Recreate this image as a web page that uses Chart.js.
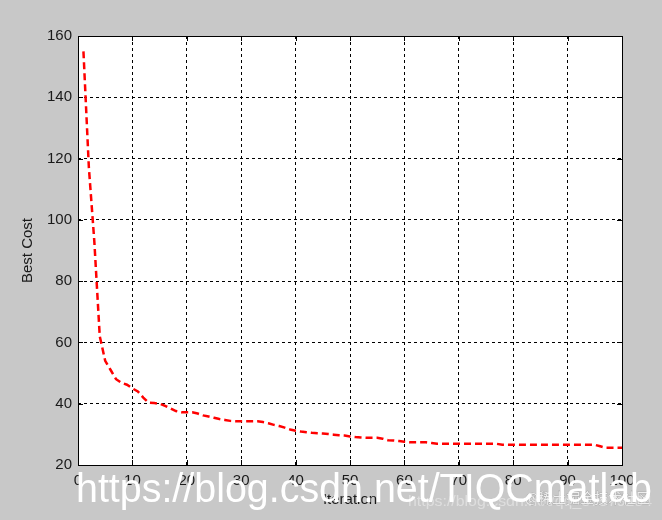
<!DOCTYPE html>
<html>
<head>
<meta charset="utf-8">
<script src="https://cdn.jsdelivr.net/npm/chart.js@4.4.0/dist/chart.umd.min.js"></script>
<style>
html,body{margin:0;padding:0;background:#c8c8c8;}
#wrap{width:662px;height:520px;position:relative;}
</style>
</head>
<body>
<div id="wrap"><canvas id="c" width="662" height="520"></canvas></div>
<script>
const iterations = Array.from({length:100}, (_, i) => i + 1);
const bestCost = [
155, 117, 93, 62, 54, 51, 48, 46.8, 46.2, 45,
44, 42, 40.3, 40.2, 40, 39.3, 38.5, 37.6, 37.2, 37.2,
37.2, 36.8, 36.2, 35.8, 35.4, 35, 34.7, 34.4, 34.3, 34.3,
34.3, 34.3, 34.3, 34, 33.6, 33.1, 32.7, 32.2, 31.6, 31.2,
30.9, 30.7, 30.5, 30.4, 30.3, 30.1, 29.9, 29.7, 29.6, 29.3,
29.1, 29, 28.9, 28.9, 28.9, 28.6, 28.1, 28, 27.8, 27.6,
27.4, 27.4, 27.4, 27.4, 27.2, 26.9, 26.9, 26.9, 26.9, 26.9,
26.9, 26.9, 26.9, 26.9, 26.9, 26.9, 26.9, 26.6, 26.6, 26.6,
26.6, 26.6, 26.6, 26.6, 26.6, 26.6, 26.6, 26.6, 26.6, 26.6,
26.6, 26.6, 26.6, 26.6, 26.6, 26.1, 25.6, 25.6, 25.6, 25.6
];
const xTicks = [0,10,20,30,40,50,60,70,80,90,100];
const yTicks = [20,40,60,80,100,120,140,160];
const xTitle = 'Iteration';
const yTitle = 'Best Cost';
const watermark = 'https://blog.csdn.net/TIQCmatlab';
const watermark2 = '@稀土掘金技术社区';
const watermark3 = 'https://blog.csdn.net/qq_37979284';

const FONT = 'Liberation Sans, Arial, sans-serif';

function fitText(ctx, text, x, y, width) {
  const w = ctx.measureText(text).width;
  ctx.save();
  ctx.translate(x, y);
  ctx.scale(width / w, 1);
  ctx.fillText(text, 0, 0);
  ctx.restore();
}

const bgPlugin = {
  id: 'bg',
  beforeDraw(chart) {
    const {ctx, chartArea: a} = chart;
    ctx.save();
    ctx.fillStyle = '#c8c8c8';
    ctx.fillRect(0, 0, chart.width, chart.height);
    ctx.fillStyle = '#ffffff';
    ctx.fillRect(a.left, a.top, a.right - a.left, a.bottom - a.top);
    ctx.restore();
  },
  afterDatasetsDraw(chart) {
    const {ctx, chartArea: a, scales} = chart;
    ctx.save();
    ctx.strokeStyle = '#000';
    ctx.lineWidth = 1;
    ctx.setLineDash([]);
    ctx.strokeRect(Math.round(a.left) + 0.5, Math.round(a.top) + 0.5, Math.round(a.right - a.left), Math.round(a.bottom - a.top));
    ctx.beginPath();
    xTicks.forEach(v => {
      const x = Math.round(scales.x.getPixelForValue(v)) + 0.5;
      ctx.moveTo(x, a.bottom); ctx.lineTo(x, a.bottom - 5);
      ctx.moveTo(x, a.top); ctx.lineTo(x, a.top + 5);
    });
    yTicks.forEach(v => {
      const y = Math.round(scales.y.getPixelForValue(v)) + 0.5;
      ctx.moveTo(a.left, y); ctx.lineTo(a.left + 5, y);
      ctx.moveTo(a.right, y); ctx.lineTo(a.right - 5, y);
    });
    ctx.stroke();
    ctx.restore();
  },
  afterDraw(chart) {
    const ctx = chart.ctx;
    ctx.save();
    ctx.textBaseline = 'alphabetic';
    ctx.fillStyle = 'rgba(228,228,228,0.8)';
    ctx.font = '15px ' + FONT;
    fitText(ctx, watermark3, 408, 506, 244);
    ctx.fillStyle = '#eeeeee';
    ctx.strokeStyle = 'rgba(120,120,120,0.6)';
    ctx.lineWidth = 0.6;
    ctx.font = '14px "Noto Sans CJK SC", sans-serif';
    ctx.strokeText(watermark2, 525, 503);
    ctx.fillText(watermark2, 525, 503);
    ctx.fillStyle = '#ffffff';
    ctx.font = '41px ' + FONT;
    fitText(ctx, watermark, 76, 502, 576);
    ctx.restore();
  }
};

new Chart(document.getElementById('c'), {
  type: 'line',
  data: {
    datasets: [{
      data: iterations.map((it, i) => ({x: it, y: bestCost[i]})),
      borderColor: '#ff0000',
      borderWidth: 2.5,
      borderDash: [7, 4],
      pointRadius: 0,
      fill: false,
      tension: 0
    }]
  },
  options: {
    responsive: false,
    animation: false,
    devicePixelRatio: 1,
    layout: {padding: {top: 36, right: 40, left: 0, bottom: 0}},
    plugins: {legend: {display: false}, tooltip: {enabled: false}},
    scales: {
      x: {
        type: 'linear', min: 0, max: 100,
        afterBuildTicks(s) { s.ticks = xTicks.map(v => ({value: v})); },
        afterFit(s) { s.height = 55; },
        border: {display: false, dash: [3,3]},
        grid: {color: '#000', lineWidth: 1, drawTicks: false},
        ticks: {color: '#1a1a1a', font: {family: FONT, size: 15}, padding: 7, maxRotation: 0},
        title: {display: true, text: xTitle, color: '#1a1a1a', font: {family: FONT, size: 15}, padding: {top: 2, bottom: 11}}
      },
      y: {
        type: 'linear', min: 20, max: 160,
        afterBuildTicks(s) { s.ticks = yTicks.map(v => ({value: v})); },
        afterFit(s) { s.width = 78; },
        border: {display: false, dash: [3,3]},
        grid: {color: '#000', lineWidth: 1, drawTicks: false},
        ticks: {color: '#1a1a1a', font: {family: FONT, size: 15}, padding: 6},
        title: {display: true, text: yTitle, color: '#1a1a1a', font: {family: FONT, size: 15}, padding: {top: 19, bottom: 0}}
      }
    }
  },
  plugins: [bgPlugin]
});
</script>
</body>
</html>
